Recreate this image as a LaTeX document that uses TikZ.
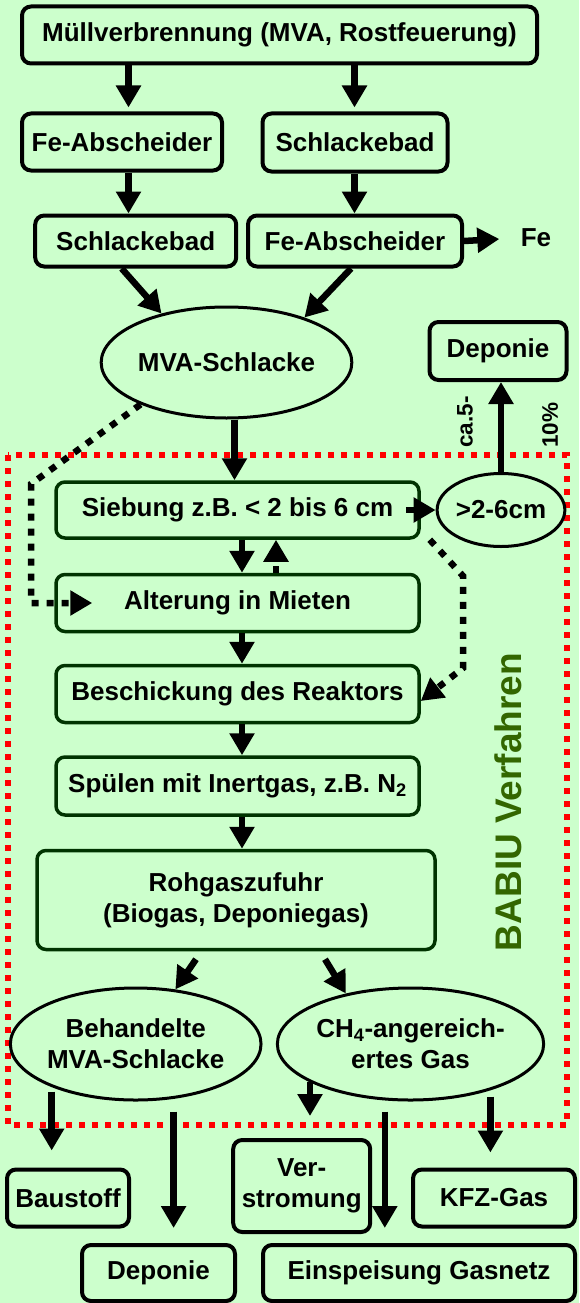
\documentclass[tikz,border=0pt]{standalone}
\usepackage{fontspec}
\setmainfont{Liberation Sans}
\usetikzlibrary{shapes.geometric,arrows.meta,positioning,calc}
\definecolor{bggreen}{RGB}{204,255,204}
\definecolor{boxgreen}{RGB}{0,51,0}
\definecolor{babiugreen}{RGB}{51,102,0}
\definecolor{framered}{RGB}{255,0,0}
\newcommand{\boxfont}{\fontsize{26}{31}\selectfont\bfseries}
\newcommand{\sidefont}{\fontsize{22.5}{26}\selectfont\bfseries}
\tikzset{
    % boxes outside the BABIU frame
    plantbox/.style={
        rectangle, draw=black, line width=4pt,
        rounded corners=9pt, inner sep=0pt,
        align=center, font=\boxfont
    },
    % process steps inside the frame
    procbox/.style={
        plantbox, draw=boxgreen, line width=3.5pt
    },
    product/.style={
        ellipse, draw=black, line width=3pt,
        inner sep=0pt, align=center, font=\boxfont
    },
    flow/.style={
        -{Triangle[length=22pt,width=24pt]}, line width=6.5pt
    },
    dotflow/.style={
        flow, dash pattern=on 7pt off 8pt
    },
    babiuframe/.style={
        draw=framered, line width=6pt, dash pattern=on 6pt off 7pt
    }
}

\begin{document}
\begin{tikzpicture}[x=1pt,y=-1pt]

% Background
\fill[bggreen] (0,0) rectangle (579,1303);
\useasboundingbox (0,0) rectangle (579,1303);

% Arrow columns
\coordinate (colL) at (128.5,0);
\coordinate (colR) at (354.5,0);
\coordinate (colC) at (234.5,0);
\coordinate (colM) at (242,0);
\coordinate (colU) at (276,0);
\coordinate (colB) at (51.7,0);
\coordinate (colD) at (173.6,0);
\coordinate (colV) at (310,0);
\coordinate (colE) at (384.8,0);
\coordinate (colK) at (490.4,0);

% BABIU frame
\draw[babiuframe] (8,455) rectangle (567,1125);
\node[rotate=90, text=babiugreen, font=\fontsize{37}{40}\selectfont\bfseries] (babiu) at (508,802) {BABIU Verfahren};

% Incineration and slag treatment
\node[plantbox, minimum width=515, minimum height=57] (mvb) at (279.5,35) {Müllverbrennung (MVA, Rostfeuerung)};
\node[plantbox, minimum width=200, minimum height=57] (fe1) at (122,142) {Fe-Abscheider};
\node[plantbox, minimum width=185, minimum height=58] (sb1) at (355,142.5) {Schlackebad};
\node[plantbox, minimum width=201, minimum height=51] (sb2) at (135.7,241) {Schlackebad};
\node[plantbox, minimum width=214, minimum height=51] (fe2) at (355,241) {Fe-Abscheider};
\node[font=\boxfont] (fe) at (536,238) {Fe};
\node[product, minimum width=228, minimum height=111] (mva) at (226.5,362.5) {MVA-Schlacke};

\draw[flow, shorten >=4pt] (mvb.south -| colL) -- (fe1.north -| colL);
\draw[flow, shorten >=4pt] (mvb.south -| colR) -- (sb1.north -| colR);
\draw[flow] (fe1.south -| colL) -- (sb2.north -| colL);
\draw[flow] (sb1.south -| colR) -- (fe2.north -| colR);
\draw[flow, shorten >=18pt] (fe2.east) -- (fe.west);
\draw[flow] ([xshift=-14pt]sb2.south) -- (mva.143);
\draw[flow] ([xshift=-4pt]fe2.south) -- (mva.30);

% Screening
\node[procbox, minimum width=363, minimum height=56] (sieb) at (237.5,510) {Siebung z.B. < 2 bis 6 cm};
\node[product, minimum width=116, minimum height=73] (grob) at (501,510) {>2-6cm};
\node[plantbox, minimum width=137, minimum height=58] (dep1) at (498,351) {Deponie};
\node[rotate=90, font=\sidefont] (ca) at (465,422) {ca.5-};
\node[rotate=90, font=\sidefont] (pct) at (550,425) {10\%};

\draw[flow] (mva.south -| colC) -- (sieb.north -| colC);
\draw[flow] ([xshift=-15pt]sieb.east) -- (grob.west);
\draw[flow] (grob.north) -- (dep1.south -| grob.north);

% Process chain
\node[procbox, minimum width=363, minimum height=57] (alt) at (237.5,603) {Alterung in Mieten};
\node[procbox, minimum width=363, minimum height=57] (besch) at (237.5,694) {Beschickung des Reaktors};
\node[procbox, minimum width=363, minimum height=58] (spuel) at (237.5,786) {Spülen mit Inertgas, z.B. N\textsubscript{2}};
\node[procbox, minimum width=398, minimum height=99] (rohgas) at (236,900) {Rohgaszufuhr\\(Biogas, Deponiegas)};

\draw[flow] (sieb.south -| colM) -- (alt.north -| colM);
\draw[dotflow] (alt.north -| colU) -- (sieb.south -| colU);
\draw[flow] (alt.south -| colM) -- (besch.north -| colM);
\draw[flow] (besch.south -| colM) -- (spuel.north -| colM);
\draw[flow] (spuel.south -| colM) -- (rohgas.north -| colM);

% Bypass routes
\coordinate (dotL) at (31,484);
\coordinate (dotR) at (463,576);
\coordinate (dotR2) at (463,668);
\draw[dotflow] (mva.206) -- (dotL) -- (dotL |- alt.west) -- ([xshift=38pt]alt.west);
\draw[dotflow] ([xshift=9pt]sieb.south east) -- (dotR) -- (dotR2) -- ([yshift=-7pt]besch.east);

% Products
\node[product, minimum width=242, minimum height=112] (beh) at (135.7,1044) {Behandelte\\MVA-Schlacke};
\node[product, minimum width=256, minimum height=112] (ch4) at (410.5,1044) {CH\textsubscript{4}-angereich-\\ertes Gas};

\draw[flow] ([xshift=-40pt,yshift=-8pt]rohgas.south) -- (beh.54);
\draw[flow] ([xshift=89pt,yshift=-8pt]rohgas.south) -- (ch4.142);

% Uses
\node[plantbox, minimum width=122, minimum height=57] (baustoff) at (68,1198) {Baustoff};
\node[plantbox, minimum width=137, minimum height=92] (verstrom) at (301.7,1186) {Ver-\\stromung};
\node[plantbox, minimum width=162, minimum height=57] (kfz) at (494,1198) {KFZ-Gas};
\node[plantbox, minimum width=153, minimum height=56] (dep2) at (158.5,1273) {Deponie};
\node[plantbox, minimum width=312, minimum height=56] (einsp) at (419,1273) {Einspeisung Gasnetz};

\draw[flow, shorten >=17pt] ($(beh.south -| colB)+(0,-10)$) -- (baustoff.north -| colB);
\draw[flow, shorten <=10pt, shorten >=15pt] (beh.south -| colD) -- (dep2.north -| colD);
\draw[flow, shorten >=22pt] ($(ch4.south -| colV)+(0,-20)$) -- (verstrom.north -| colV);
\draw[flow, shorten <=10pt, shorten >=15pt] (ch4.south -| colE) -- (einsp.north -| colE);
\draw[flow, shorten >=15pt] ($(ch4.south -| colK)+(0,-5)$) -- (kfz.north -| colK);

\end{tikzpicture}
\end{document}
